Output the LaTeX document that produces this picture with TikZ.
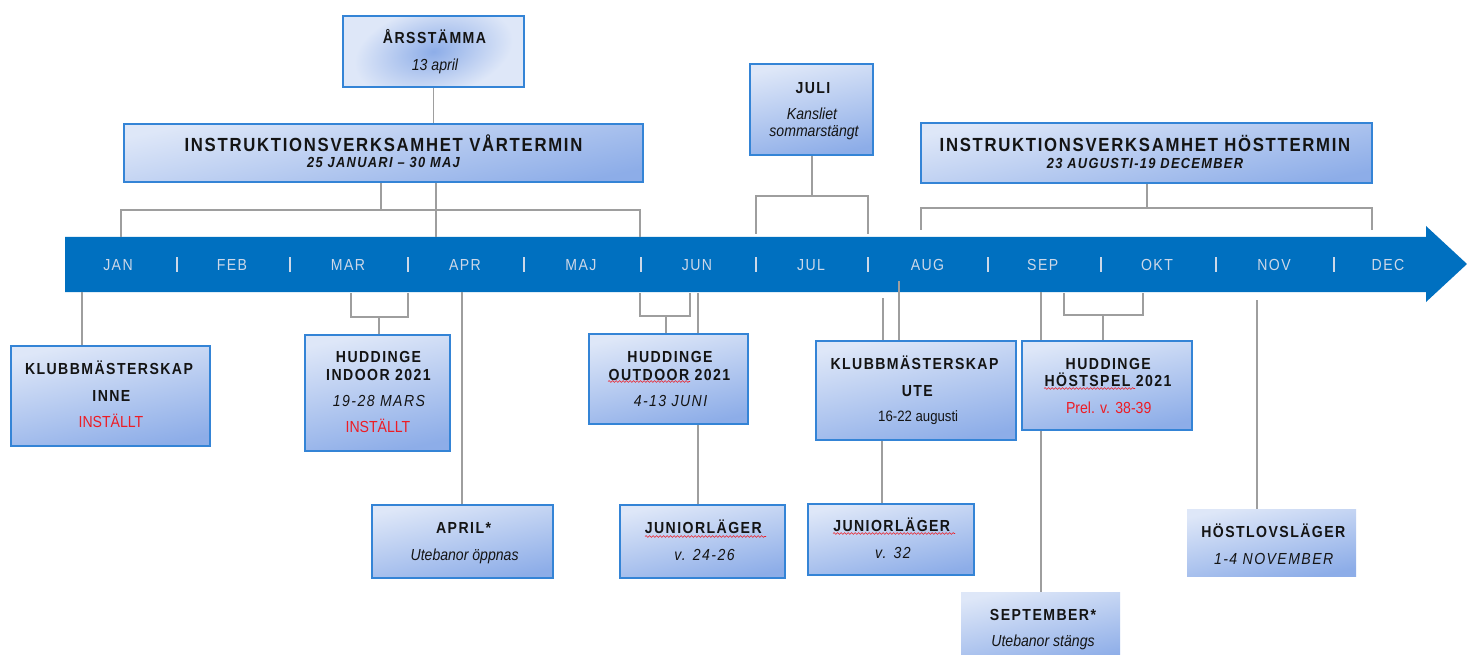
\documentclass[tikz,border=0pt]{standalone}
\usepackage{fontspec}
\setmainfont{Liberation Sans}
\newfontfamily\nar[FakeStretch=0.88]{Liberation Sans}
\newfontfamily\spc[FakeStretch=0.88,LetterSpace=9]{Liberation Sans}
\usetikzlibrary{decorations.pathmorphing}
\pgfdeclarelayer{bg}
\pgfsetlayers{bg,main}
\definecolor{bandblue}{RGB}{0,112,192}
\definecolor{boxtop}{RGB}{222,231,248}
\definecolor{boxbot}{RGB}{141,173,232}
\definecolor{boxline}{RGB}{52,132,214}
\definecolor{conngray}{RGB}{158,158,158}
\definecolor{monthc}{RGB}{205,216,232}
\definecolor{redt}{RGB}{237,28,36}
\definecolor{txtc}{RGB}{20,20,20}
\tikzset{
  panel/.style={rectangle, anchor=north west, inner sep=0pt, outer sep=0pt,
    top color=boxtop, bottom color=boxbot, shading angle=12},
  framed/.style={panel, draw=boxline, line width=1.2pt},
  conn/.style={draw=conngray, line width=1.3pt},
  lbl/.style={anchor=base, inner sep=0pt, outer sep=0pt, text=txtc},
  bt/.style={lbl, font=\spc\bfseries\fontsize{16}{16}\selectfont},
  big/.style={lbl, font=\spc\bfseries\fontsize{19}{19}\selectfont},
  sub/.style={lbl, font=\spc\bfseries\itshape\fontsize{14.6}{14.6}\selectfont},
  note/.style={lbl, font=\nar\itshape\fontsize{16}{16}\selectfont},
  snote/.style={lbl, font=\spc\itshape\fontsize{16}{16}\selectfont},
  plainnote/.style={lbl, font=\nar\fontsize{15}{15}\selectfont},
  cancelled/.style={lbl, font=\nar\fontsize{16}{16}\selectfont, text=redt},
  month/.style={lbl, font=\spc\fontsize{16}{16}\selectfont, text=monthc},
  sep/.style={draw=monthc, line width=1.5pt},
  squig/.style={draw=redt, line width=0.6pt, decorate,
    decoration={snake, amplitude=0.9pt, segment length=3.5pt}}
}
\begin{document}
\begin{tikzpicture}[x=1pt,y=-1pt]
\useasboundingbox (0,0) rectangle (1467,655);

% ---------- boxes ----------
\node[framed, minimum width=181, minimum height=71, inner color=boxbot, outer color=boxtop] (ars) at (343,16) {};
\node[framed, minimum width=519, minimum height=58] (var) at (124,124) {};
\node[framed, minimum width=123, minimum height=91] (juli) at (750,64) {};
\node[framed, minimum width=451, minimum height=60] (host) at (921,123) {};
\node[framed, minimum width=199, minimum height=100] (kinne) at (11,346) {};
\node[framed, minimum width=145, minimum height=116] (indoor) at (305,335) {};
\node[framed, minimum width=181, minimum height=73] (april) at (372,505) {};
\node[framed, minimum width=159, minimum height=90] (outdoor) at (589,334) {};
\node[framed, minimum width=165, minimum height=73] (jl1) at (620,505) {};
\node[framed, minimum width=200, minimum height=99] (kute) at (816,341) {};
\node[framed, minimum width=166, minimum height=71] (jl2) at (808,504) {};
\node[framed, minimum width=170, minimum height=89] (hspel) at (1022,341) {};
\node[panel, minimum width=159, minimum height=72] (sept) at (961,592) {};
\node[panel, minimum width=169, minimum height=67] (hlov) at (1187,509) {};

% ---------- band and connectors ----------
\begin{pgfonlayer}{bg}
\fill[white] (0,0) rectangle (1467,655);
\fill[bandblue] (65,237) -- (1426,237) -- (1426,226) -- (1467,264) -- (1426,302)
  -- (1426,292) -- (65,292) -- cycle;

\coordinate (aprtop) at (436,237);
\coordinate (vbr) at (381,210);
\coordinate (janl) at (121,237);
\coordinate (junl) at (640,237);
\coordinate (jbr) at (812,196);
\coordinate (jull) at (756,234);
\coordinate (julr) at (868,234);
\coordinate (hbr) at (1147,208);
\coordinate (augl) at (921,230);
\coordinate (decl) at (1372,230);

\draw[conn] (ars.south) -- (ars.south |- var.north);
\draw[conn] (aprtop |- var.south) -- (aprtop);
\draw[conn] (vbr |- var.south) -- (vbr);
\draw[conn] (janl) |- (vbr) -| (junl);
\draw[conn] (jbr |- juli.south) -- (jbr);
\draw[conn] (jull) |- (jbr) -| (julr);
\draw[conn] (hbr |- host.south) -- (hbr);
\draw[conn] (augl) |- (hbr) -| (decl);

\coordinate (jand) at (82,292);
\coordinate (marl) at (351,293);
\coordinate (marr) at (408,293);
\coordinate (mbr) at (379,317);
\coordinate (aprd) at (462,292);
\coordinate (junl2) at (640,293);
\coordinate (junr2) at (690,293);
\coordinate (obr) at (666,316);
\coordinate (jund) at (698,293);
\coordinate (augd1) at (883,298);
\coordinate (augd2) at (899,281);
\coordinate (kjx) at (882,0);
\coordinate (sepd) at (1041,292);
\coordinate (oktl) at (1064,293);
\coordinate (oktr) at (1143,293);
\coordinate (hsbr) at (1103,315);
\coordinate (novd) at (1257,300);

\draw[conn] (jand) -- (jand |- kinne.north);
\draw[conn] (marl) |- (mbr) -| (marr);
\draw[conn] (mbr) -- (mbr |- indoor.north);
\draw[conn] (aprd) -- (aprd |- april.north);
\draw[conn] (junl2) |- (obr) -| (junr2);
\draw[conn] (obr) -- (obr |- outdoor.north);
\draw[conn] (jund) -- (jund |- jl1.north);
\draw[conn] (augd1) -- (augd1 |- kute.north);
\draw[conn] (augd2) -- (augd2 |- kute.north);
\draw[conn] (kute.south -| kjx) -- (jl2.north -| kjx);
\draw[conn] (sepd) -- (sepd |- sept.north);
\draw[conn] (oktl) |- (hsbr) -| (oktr);
\draw[conn] (hsbr) -- (hsbr |- hspel.north);
\draw[conn] (novd) -- (novd |- hlov.north);
\end{pgfonlayer}

% ---------- month labels ----------
\node[month] (mjan) at (118,270.7) {JAN};
\node[month] (mfeb) at (232,270.7) {FEB};
\node[month] (mmar) at (348,270.7) {MAR};
\node[month] (mapr) at (465,270.7) {APR};
\node[month] (mmaj) at (581,270.7) {MAJ};
\node[month] (mjun) at (697,270.7) {JUN};
\node[month] (mjul) at (811,270.7) {JUL};
\node[month] (maug) at (927.5,270.7) {AUG};
\node[month] (msep) at (1042.7,270.7) {SEP};
\node[month] (mokt) at (1157,270.7) {OKT};
\node[month] (mnov) at (1274,270.7) {NOV};
\node[month] (mdec) at (1388,270.7) {DEC};
\foreach \sx in {177,290,408,524,641,756,868,988,1101,1216,1334}
  \draw[sep] (\sx,257) -- (\sx,272);

% ---------- texts ----------
\node[bt] (t1) at (434.5,44) {ÅRSSTÄMMA};
\node[note] (t2) at (435,71) {13 april};
\node[big] (t3) at (383.5,151.7) {INSTRUKTIONSVERKSAMHET VÅRTERMIN};
\node[sub] (t4) at (383.5,167.5) {25 JANUARI – 30 MAJ};
\node[bt] (t5) at (813,93.3) {JULI};
\node[note] (t6) at (812,120) {Kansliet};
\node[note] (t7) at (814,137) {sommarstängt};
\node[big] (t8) at (1145,151.7) {INSTRUKTIONSVERKSAMHET HÖSTTERMIN};
\node[sub] (t9) at (1145,168.5) {23 AUGUSTI-19 DECEMBER};

\node[bt] (t10) at (109,374.3) {KLUBBMÄSTERSKAP};
\node[bt] (t11) at (111.4,401.3) {INNE};
\node[cancelled] (t12) at (111,427.3) {INSTÄLLT};

\node[bt] (t13) at (378.5,362.3) {HUDDINGE};
\node[bt] (t14) at (378.5,380) {INDOOR 2021};
\node[snote] (t15) at (379,406.7) {19-28 MARS};
\node[cancelled] (t16) at (378,432.7) {INSTÄLLT};

\node[bt] (t17) at (463.6,533.3) {APRIL*};
\node[note] (t18) at (464.6,560) {Utebanor öppnas};

\node[bt] (t19) at (670,362.3) {HUDDINGE};
\node[bt] (t20) at (669.5,380) {OUTDOOR 2021};
\node[snote] (t21) at (670.5,406.7) {4-13 JUNI};

\node[bt] (t22) at (703.3,533.3) {JUNIORLÄGER};
\node[snote] (t23) at (704.5,560) {v. 24-26};

\node[bt] (t24) at (914.5,369.3) {KLUBBMÄSTERSKAP};
\node[bt] (t25) at (917.3,396) {UTE};
\node[plainnote] (t26) at (918.2,421.7) {16-22 augusti};

\node[bt] (t27) at (891.7,531.7) {JUNIORLÄGER};
\node[snote] (t28) at (893,558.3) {v. 32};

\node[bt] (t29) at (1108.3,369) {HUDDINGE};
\node[bt] (t30) at (1108,386) {HÖSTSPEL 2021};
\node[cancelled] (t31) at (1108.7,413.3) {Prel. v. 38-39};

\node[bt] (t32) at (1043,620) {SEPTEMBER*};
\node[note] (t33) at (1043,646) {Utebanor stängs};

\node[bt] (t34) at (1273.3,537.7) {HÖSTLOVSLÄGER};
\node[snote] (t35) at (1273.7,564) {1-4 NOVEMBER};

% ---------- spell-check squiggles ----------
\draw[squig] (608,381.5) -- (690,381.5);
\draw[squig] (645,536.5) -- (766,536.5);
\draw[squig] (833,533.5) -- (955,533.5);
\draw[squig] (1044,388.5) -- (1135,388.5);
\end{tikzpicture}
\end{document}
